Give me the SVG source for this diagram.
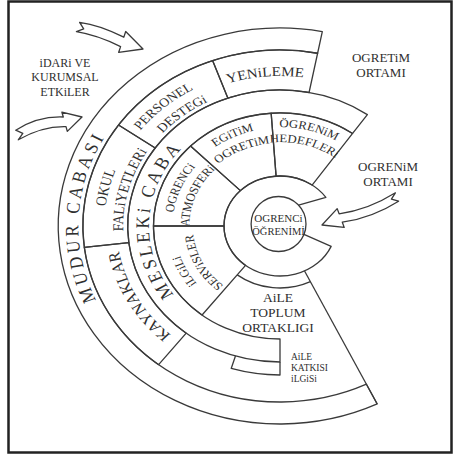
<svg xmlns="http://www.w3.org/2000/svg" width="456" height="455" viewBox="0 0 456 455">
<style>
.ln{fill:none;stroke:#3a3a3a;stroke-width:1.3;vector-effect:non-scaling-stroke;stroke-linejoin:round}
.ar{fill:#fff;stroke:#3a3a3a;stroke-width:1.3;stroke-linejoin:round}
.t{font-family:"Liberation Serif","Times New Roman",serif;fill:#2f2f2f}
.mid{text-anchor:middle}
</style>
<defs>
<path id="p-mudur" d="M -98.03,150.97 A180,180 0 0 1 -81.72,-160.38"/>
<path id="p-mesleki" d="M -63.72,98.13 A117,117 0 0 1 -53.12,-104.25"/>
<path id="p-kaynak" d="M -52.33,136.31 A146,146 0 0 1 -143.31,-27.86"/>
<path id="p-okul" d="M -141.11,68.83 A157,157 0 0 1 -92.28,-127.01"/>
<path id="p-faliyet" d="M -126.88,59.16 A140,140 0 0 1 -80.30,-114.69"/>
<path id="p-personel" d="M -155.07,-24.56 A157,157 0 0 1 -2.74,-156.98"/>
<path id="p-destegi" d="M -136.94,-29.11 A140,140 0 0 1 4.89,-139.91"/>
<path id="p-yenileme" d="M -106.07,-106.07 A150,150 0 0 1 86.04,-122.87"/>
<path id="p-egitim" d="M -88.82,-41.41 A98,98 0 0 1 25.36,-94.66"/>
<path id="p-ogretim" d="M -74.60,-36.39 A83,83 0 0 1 22.88,-79.79"/>
<path id="p-ogrenim" d="M -41.84,-89.72 A99,99 0 0 1 81.10,-56.79"/>
<path id="p-hedef" d="M -35.50,-76.13 A84,84 0 0 1 68.81,-48.18"/>
<path id="p-ogrenci" d="M -91.80,28.07 A96,96 0 0 1 -43.58,-85.54"/>
<path id="p-atmos" d="M -77.04,25.03 A81,81 0 0 1 -38.03,-71.52"/>
<path id="p-ilgili" d="M -35.21,87.16 A94,94 0 0 1 -91.94,-19.54"/>
<path id="p-servis" d="M -29.22,72.32 A78,78 0 0 1 -76.29,-16.22"/>
</defs>
<rect x="8.5" y="1.5" width="443" height="451" fill="#fff" stroke="#222" stroke-width="2.5"/>

<g id="connectors">
<path class="ar" d="M 79.6,22.3 Q 100,25 123.8,37.2 L 125.7,31.5 L 143,49 L 118.7,52.3 L 120.6,46.6 Q 97,35 76.4,31.7 L 83.7,28.9 Z"/>
<path class="ar" d="M 15.7,130.2 Q 38,116 63.3,117 L 61.9,112.2 L 82,117 L 67.3,131.4 L 66,126.6 Q 42,126 18.3,139.8 L 22.8,133.4 Z"/>
<path class="ar" d="M 395.4,192.8 Q 368,210 339.1,213.8 L 337.2,208.6 L 322,225 L 344.2,227.4 L 342.3,222.2 Q 372,218 398.6,201.2 L 391.4,199.1 Z"/>
</g>

<g id="labels-outside">
<text class="t mid" font-size="12" x="65" y="67">iDARi VE</text>
<text class="t mid" font-size="12" x="65" y="81">KURUMSAL</text>
<text class="t mid" font-size="12" x="65" y="96">ETKiLER</text>
<text class="t mid" font-size="13" x="381" y="61.5">OGRETiM</text>
<text class="t mid" font-size="13" x="381" y="76.5">ORTAMI</text>
<text class="t mid" font-size="13" x="388" y="170.5">OGRENiM</text>
<text class="t mid" font-size="13" x="388" y="185.5">ORTAMI</text>
</g>

<g transform="translate(280,226) scale(1.12,1)">
<g id="mudur-cabasi">
<path class="ln" d="M 37.78,-194.36 A198,198 0 1 0 86.80,177.96 L 77.16,158.19 A176,176 0 1 1 33.58,-172.76 Z"/>
<text class="t" font-size="17" letter-spacing="3.5"><textPath href="#p-mudur" startOffset="37.9%" text-anchor="middle">MUDUR</textPath></text>
<text class="t" font-size="17" letter-spacing="3.5"><textPath href="#p-mudur" startOffset="61.7%" text-anchor="middle">CABASI</textPath></text>
</g>
<g id="yenileme">
<path class="ln" d="M 33.58,-172.76 A176,176 0 0 0 -60.19,-165.39 L -46.51,-127.80 A136,136 0 0 1 25.95,-133.50 Z"/>
<text class="t" font-size="13.5"><textPath href="#p-yenileme" startOffset="50%" text-anchor="middle">YENiLEME</textPath></text>
</g>
<g id="personel-destegi">
<path class="ln" d="M -60.19,-165.39 A176,176 0 0 0 -144.18,-100.95 L -111.41,-78.01 A136,136 0 0 1 -46.51,-127.80 Z"/>
<text class="t" font-size="12.5"><textPath href="#p-personel" startOffset="50%" text-anchor="middle">PERSONEL</textPath></text>
<text class="t" font-size="12.5"><textPath href="#p-destegi" startOffset="50%" text-anchor="middle">DESTEGi</textPath></text>
</g>
<g id="okul-faliyetleri">
<path class="ln" d="M -144.18,-100.95 A176,176 0 0 0 -174.69,21.45 L -134.99,16.58 A136,136 0 0 1 -111.41,-78.01 Z"/>
<text class="t" font-size="13.5"><textPath href="#p-okul" startOffset="50%" text-anchor="middle">OKUL</textPath></text>
<text class="t" font-size="13.5"><textPath href="#p-faliyet" startOffset="50%" text-anchor="middle">FALiYETLERi</textPath></text>
</g>
<g id="kaynaklar">
<path class="ln" d="M -174.69,21.45 A176,176 0 0 0 -108.36,138.69 L -83.74,107.17 A136,136 0 0 1 -134.99,16.58 Z"/>
<text class="t" font-size="15" letter-spacing="0.5"><textPath href="#p-kaynak" startOffset="50%" text-anchor="middle">KAYNAKLAR</textPath></text>
</g>
<g id="mesleki-caba">
<path class="ln" d="M 78.01,-111.41 A136,136 0 1 0 0,136 L 0,113 A113,113 0 1 1 64.82,-92.57 Z"/>
<text class="t" font-size="17" letter-spacing="3"><textPath href="#p-mesleki" startOffset="36.6%" text-anchor="middle">MESLEKi</textPath></text>
<text class="t" font-size="17" letter-spacing="3"><textPath href="#p-mesleki" startOffset="70.8%" text-anchor="middle">CABA</textPath></text>
</g>
<g id="aile-katkisi-ilgisi">
<path class="ln" d="M 0,136 L 0,149 A149,149 0 0 1 -43.57,142.49 L -39.77,130.06"/>
</g>
<g id="ogrenim-hedefleri">
<path class="ln" d="M 64.82,-92.57 A113,113 0 0 0 -7.89,-112.73 L -3.49,-49.88 A50,50 0 0 1 28.68,-40.96 Z"/>
<text class="t" font-size="11.5"><textPath href="#p-ogrenim" startOffset="50%" text-anchor="middle">ÖGRENiM</textPath></text>
<text class="t" font-size="11.5"><textPath href="#p-hedef" startOffset="50%" text-anchor="middle">HEDEFLERi</textPath></text>
</g>
<g id="egitim-ogretim">
<path class="ln" d="M -7.89,-112.73 A113,113 0 0 0 -79.90,-79.90 L -35.36,-35.36 A50,50 0 0 1 -3.49,-49.88 Z"/>
<text class="t" font-size="11.5"><textPath href="#p-egitim" startOffset="50%" text-anchor="middle">EGiTiM</textPath></text>
<text class="t" font-size="11.5"><textPath href="#p-ogretim" startOffset="50%" text-anchor="middle">OGRETiM</textPath></text>
</g>
<g id="ogrenci-atmosferi">
<path class="ln" d="M -79.90,-79.90 A113,113 0 0 0 -113,0 L -50,0 A50,50 0 0 1 -35.36,-35.36 Z"/>
<text class="t" font-size="11.5"><textPath href="#p-ogrenci" startOffset="50%" text-anchor="middle">OGRENCi</textPath></text>
<text class="t" font-size="11.5"><textPath href="#p-atmos" startOffset="50%" text-anchor="middle">ATMOSFERi</textPath></text>
</g>
<g id="ilgili-servisler">
<path class="ln" d="M -113,0 A113,113 0 0 0 -69.57,89.04 L -30.79,39.40 A50,50 0 0 1 -50,0 Z"/>
<text class="t" font-size="11.5"><textPath href="#p-ilgili" startOffset="50%" text-anchor="middle">iLGiLi</textPath></text>
<text class="t" font-size="11.5"><textPath href="#p-servis" startOffset="50%" text-anchor="middle">SERViSLER</textPath></text>
</g>
<g id="aile-toplum-ortakligi">
<path class="ln" d="M -38.17,48.86 A62,62 0 0 0 27.18,55.72"/>
<path class="ln" d="M 21.92,44.94 L 86.80,177.96"/>
</g>
<g id="ogrenci-ring">
<path class="ln" d="M 16.6,-20.8 L 40.96,-28.68 A50,50 0 1 0 45.68,20.34 L 21.4,8.3"/>
</g>
<g id="ogrenci-ogrenimi-circle">
<ellipse class="ln" cx="-1.3" cy="-2" rx="24.5" ry="27.5"/>
</g>
</g>

<g id="ogrenci-ogrenimi">
<text class="t mid" font-size="11" x="278.5" y="222">OGRENCi</text>
<text class="t mid" font-size="10.5" x="278.5" y="234.5">ÖĞRENİMİ</text>
</g>
<g id="aile-toplum-text">
<text class="t mid" font-size="13.5" x="278" y="301.5">AiLE</text>
<text class="t mid" font-size="13.5" x="278" y="316.5">TOPLUM</text>
<text class="t mid" font-size="13.5" x="278" y="331.5">ORTAKLIGI</text>
</g>
<g id="aile-katkisi-text">
<text class="t" font-size="9.5" x="291" y="359.5">AiLE</text>
<text class="t" font-size="9.5" x="291" y="370.5">KATKISI</text>
<text class="t" font-size="9.5" x="291" y="381.5">iLGiSi</text>
</g>
</svg>
